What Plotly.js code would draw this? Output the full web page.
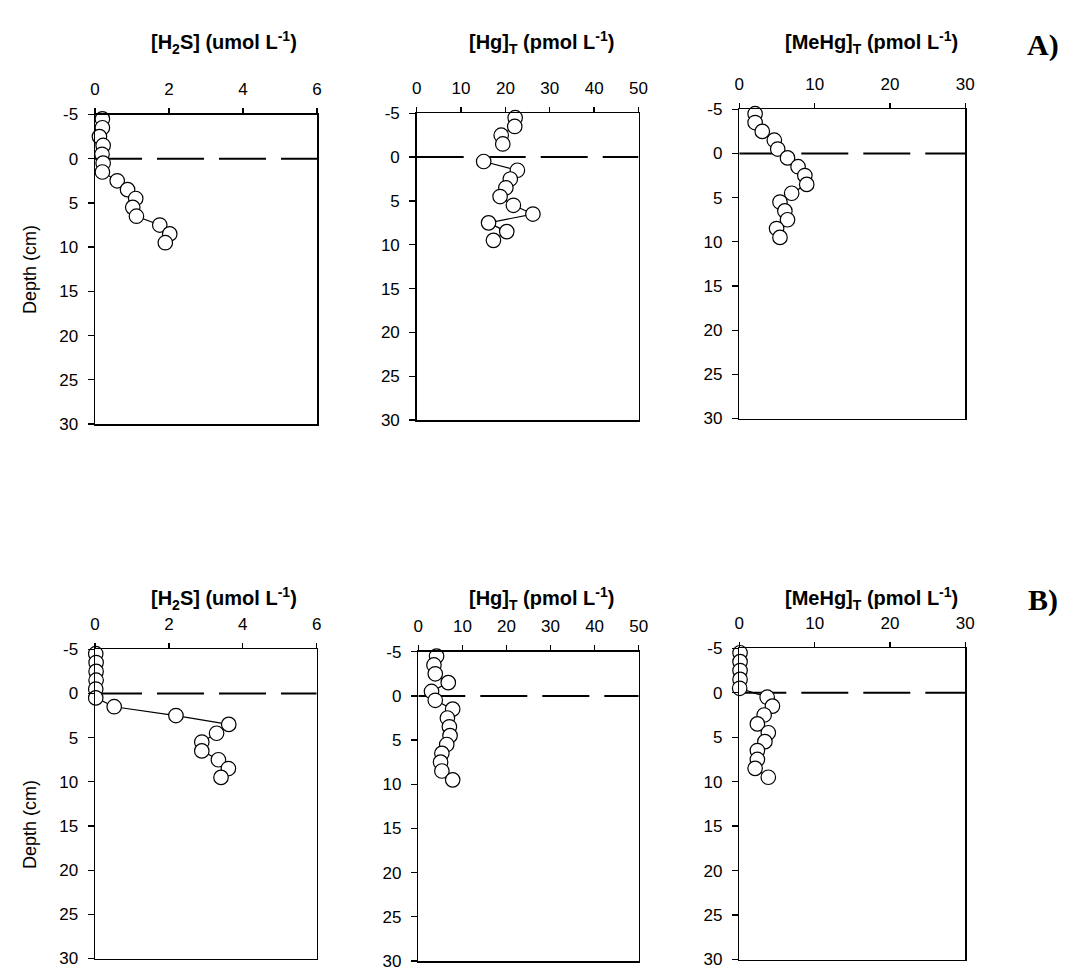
<!DOCTYPE html>
<html>
<head>
<meta charset="utf-8">
<script src="https://cdn.plot.ly/plotly-3.0.1.min.js"></script>
<style>
  html, body { margin: 0; padding: 0; background: #fff; }
  #chart { width: 1070px; height: 974px; }
</style>
</head>
<body>
<div id="chart"></div>
<script>
// Sediment depth of each sampled slice (cm; negative = above the interface)
const depth = [-4.5, -3.5, -2.5, -1.5, -0.5, 0.5, 1.5, 2.5, 3.5, 4.5, 5.5, 6.5, 7.5, 8.5, 9.5];

// Core A
const h2sA   = [0.2, 0.2, 0.12, 0.22, 0.19, 0.22, 0.2, 0.6, 0.88, 1.1, 1.02, 1.12, 1.75, 2.02, 1.9];
const hgA    = [22.2, 22.1, 19.05, 19.4, null, 15.1, 22.7, 21.1, 20.1, 18.8, 21.8, 26.2, 16.2, 20.3, 17.3];
const mehgA  = [2.1, 2.1, 3.05, 4.65, 5.1, 6.4, 7.8, 8.7, 8.95, 6.95, 5.4, 6.05, 6.4, 4.95, 5.4];

// Core B
const h2sB   = [0.02, 0.03, 0.03, 0.03, 0.02, 0.02, 0.52, 2.19, 3.62, 3.29, 2.89, 2.89, 3.34, 3.61, 3.41];
const hgB    = [4.15, 3.55, 3.85, 6.8, 3.0, 3.85, 7.8, 6.6, 7.05, 7.2, 6.45, 5.35, 5.05, 5.35, 7.8];
const mehgB  = [0.1, 0.1, 0.1, 0.1, 0.05, 3.7, 4.4, 3.3, 2.4, 3.85, 3.4, 2.4, 2.4, 2.1, 3.85];

// Axis settings
const xMax      = [6, 50, 30];
const xStep     = [2, 10, 10];
const depthTicks = [-5, 0, 5, 10, 15, 20, 25, 30];
const titles = [
  '[H<sub>2</sub>S] (umol L<sup>-1</sup>)',
  '[Hg]<sub>T</sub> (pmol L<sup>-1</sup>)',
  '[MeHg]<sub>T</sub> (pmol L<sup>-1</sup>)'
];
const panelLabels = ['A)', 'B)'];
const depthTitle = 'Depth (cm)';

const W = 1070, H = 974;
const px = v => v / W;
const py = v => 1 - v / H;

// Plot boxes in pixels: [left, right, top, bottom]
const boxes = [
  [95, 317, 114.5, 424],
  [416.7, 638.5, 113.3, 420],
  [739.3, 965.3, 109.3, 418.5],
  [95, 316.7, 649.3, 958.5],
  [418.3, 638.7, 651.7, 961],
  [739.3, 965.3, 648.3, 959.5]
];
const series = [h2sA, hgA, mehgA, h2sB, hgB, mehgB];

const tickFont = { family: 'Arial, Liberation Sans, sans-serif', size: 17, color: '#000' };

const data = [];
const layout = {
  width: W, height: H,
  margin: { l: 0, r: 0, t: 0, b: 0 },
  paper_bgcolor: '#fff', plot_bgcolor: '#fff',
  showlegend: false,
  shapes: [], annotations: []
};

series.forEach((vals, i) => {
  const col = i % 3;
  const n = i + 1;
  const xa = n === 1 ? 'x' : 'x' + n;
  const ya = n === 1 ? 'y' : 'y' + n;
  const b = boxes[i];

  data.push({
    type: 'scatter', mode: 'lines+markers',
    x: vals, y: depth, xaxis: xa, yaxis: ya,
    line: { color: '#000', width: 1.2 },
    marker: { symbol: 'circle', size: 14.5, color: '#fff', line: { color: '#000', width: 1.2 } },
    connectgaps: false, cliponaxis: false, hoverinfo: 'skip'
  });

  layout[n === 1 ? 'xaxis' : 'xaxis' + n] = {
    domain: [px(b[0]), px(b[1])], anchor: ya, side: 'top',
    range: [0, xMax[col]], tickmode: 'linear', tick0: 0, dtick: xStep[col],
    showgrid: false, zeroline: false,
    showline: true, linecolor: '#000', linewidth: 1.5, mirror: true,
    ticks: 'outside', ticklen: 5, tickwidth: 1.3, tickcolor: '#000',
    ticklabelstandoff: 6, tickfont: tickFont, fixedrange: true
  };
  layout[n === 1 ? 'yaxis' : 'yaxis' + n] = {
    domain: [py(b[3]), py(b[2])], anchor: xa,
    range: [30, -5], tickmode: 'array', tickvals: depthTicks,
    ticktext: depthTicks.map(String),
    showgrid: false, zeroline: false,
    showline: true, linecolor: '#000', linewidth: 1.5, mirror: true,
    ticks: 'outside', ticklen: 6, tickwidth: 1.3, tickcolor: '#000',
    ticklabelstandoff: 6, tickfont: tickFont, fixedrange: true
  };

  // Sediment-water interface
  layout.shapes.push({
    type: 'line', xref: xa, yref: ya, layer: 'below',
    x0: 0, x1: xMax[col], y0: 0, y1: 0,
    line: { color: '#000', width: 2, dash: '47px,15px' }
  });
});

// Column titles
const titleCenters = [224, 541, 871];
[42, 598].forEach(yc => {
  titles.forEach((t, c) => {
    layout.annotations.push({
      text: t, xref: 'paper', yref: 'paper',
      x: px(titleCenters[c]), y: py(yc), xanchor: 'center', yanchor: 'middle',
      showarrow: false,
      font: { family: 'Arial, Liberation Sans, sans-serif', size: 20, color: '#000', weight: 700 }
    });
  });
});

// Depth axis titles
[270, 825].forEach(yc => {
  layout.annotations.push({
    text: depthTitle, xref: 'paper', yref: 'paper',
    x: px(30), y: py(yc), xanchor: 'center', yanchor: 'middle',
    textangle: -90, showarrow: false,
    font: { family: 'Arial, Liberation Sans, sans-serif', size: 18, color: '#000' }
  });
});

// Core labels
[45, 600].forEach((yc, r) => {
  layout.annotations.push({
    text: '<b>' + panelLabels[r] + '</b>', xref: 'paper', yref: 'paper',
    x: px(1043), y: py(yc), xanchor: 'center', yanchor: 'middle',
    showarrow: false,
    font: { family: 'Liberation Serif, Times New Roman, serif', size: 30, color: '#000' }
  });
});

Plotly.newPlot('chart', data, layout, { staticPlot: true, displayModeBar: false });
</script>
</body>
</html>
